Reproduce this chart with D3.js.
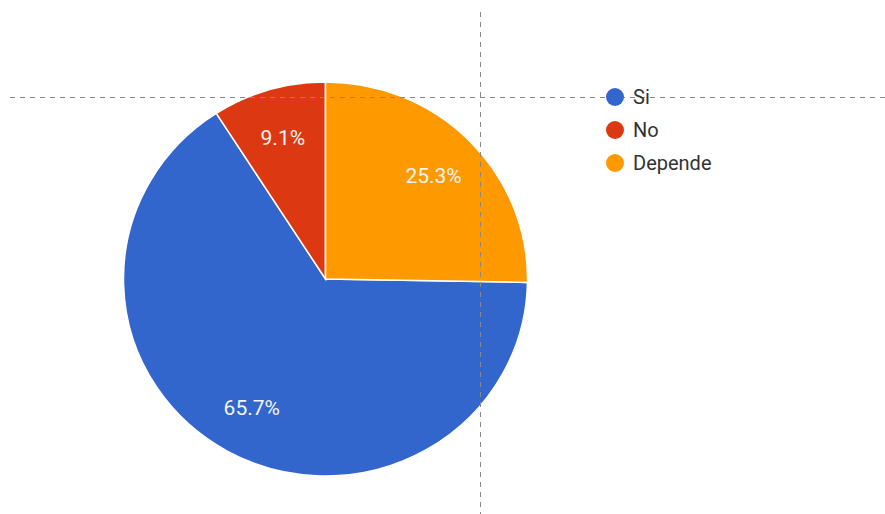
<!DOCTYPE html>
<html>
<head>
<meta charset="utf-8">
<script src="https://cdn.jsdelivr.net/npm/d3@7"></script>
<style>
  body { margin: 0; background: #fff; }
  text { font-family: Roboto, "Noto Sans", sans-serif; }
</style>
</head>
<body>
<div id="vis-container"></div>
<script>
const categories = ["Si", "No", "Depende"];
const values = [65.7, 9.1, 25.3];
const colors = ["#3366cc", "#dc3912", "#ff9900"];

const width = 885,
    height = 514;
const cx = 325.5,
    cy = 279,
    r = 202;

let svg = d3.select("#vis-container")
    .append("svg")
    .attr("width", width)
    .attr("height", height);

let data = categories.map((c, i) => ({name: c, value: values[i], color: colors[i]}));

// Si starts where Depende ends, so Depende sits at 12 o'clock
const start = values[2] / d3.sum(values) * 2 * Math.PI;
let pie = d3.pie()
    .sort(null)
    .value(d => d.value)
    .startAngle(start)
    .endAngle(start + 2 * Math.PI);

let arc = d3.arc().innerRadius(0).outerRadius(r);
let labelArc = d3.arc().innerRadius(r * 0.75).outerRadius(r * 0.75);

let pie_g = svg.append("g")
    .attr("transform", `translate(${cx},${cy}) scale(1,0.975)`);

let slices = pie_g.selectAll(".slice")
    .data(pie(data))
    .enter().append("g")
    .attr("class", "slice");

slices.append("path")
    .attr("d", arc)
    .attr("fill", d => d.data.color)
    .attr("stroke", "#fff")
    .attr("stroke-width", 1.5);

slices.append("text")
    .attr("transform", d => `translate(${labelArc.centroid(d)}) scale(1,${1 / 0.975})`)
    .attr("text-anchor", "middle")
    .attr("dy", "0.35em")
    .attr("fill", "#f4f4f4")
    .attr("font-size", 21)
    .text(d => d.data.value.toFixed(1) + "%");

// crosshair guide lines
svg.append("line")
    .attr("x1", 10).attr("x2", width)
    .attr("y1", 97.5).attr("y2", 97.5)
    .attr("stroke", "#888")
    .attr("stroke-width", 1)
    .attr("stroke-dasharray", "5,5");
svg.append("line")
    .attr("x1", 480.5).attr("x2", 480.5)
    .attr("y1", 12).attr("y2", height)
    .attr("stroke", "#888")
    .attr("stroke-width", 1)
    .attr("stroke-dasharray", "5,5");

// legend
let legend = svg.append("g")
    .attr("transform", "translate(615,97)");
let items = legend.selectAll(".item")
    .data(data)
    .enter().append("g")
    .attr("transform", (d, i) => `translate(0,${i * 33})`);
items.append("circle")
    .attr("r", 9)
    .attr("fill", d => d.color);
items.append("text")
    .attr("x", 18)
    .attr("dy", "0.36em")
    .attr("fill", "#333")
    .attr("font-size", 20)
    .text(d => d.name);
</script>
</body>
</html>
